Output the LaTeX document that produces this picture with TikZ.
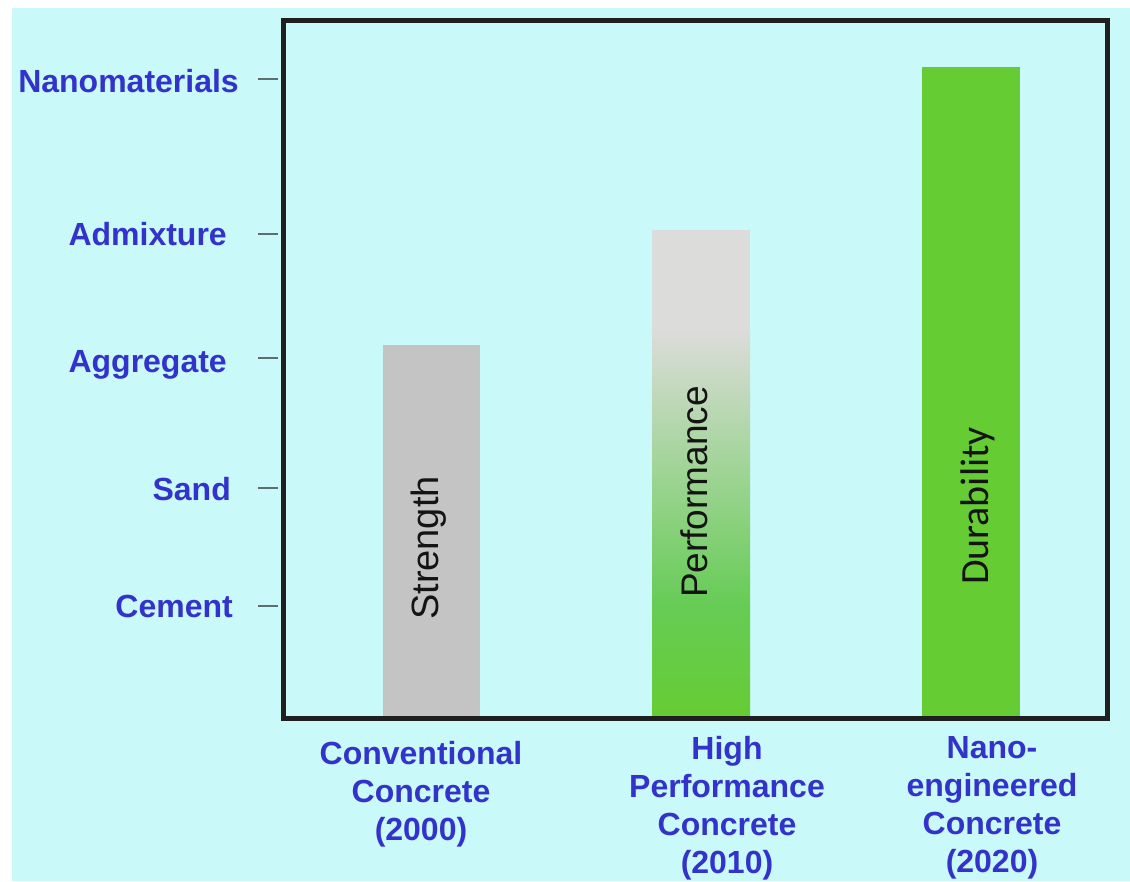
\documentclass[tikz,border=0pt]{standalone}
\usepackage{fontspec}
\setmainfont{Liberation Sans}
\newfontfamily\durfont{Carlito}

\definecolor{panelCyan}{HTML}{C9F9F9}
\definecolor{labelBlue}{HTML}{3333CC}
\definecolor{barGreen}{HTML}{66CC33}
\definecolor{midGreen}{HTML}{66CC55}
\definecolor{barGray}{HTML}{C4C4C4}
\definecolor{fadeGray}{HTML}{DCDCDA}
\definecolor{tickGray}{HTML}{5F6F6F}

\tikzset{
	axislabel/.style={font=\fontsize{32}{38}\selectfont\bfseries, text=labelBlue, inner sep=0pt},
	barlabel/.style={rotate=90, anchor=base, inner sep=0pt, text=black!92},
}

\begin{document}
\begin{tikzpicture}[x=1pt, y=-1pt]

		\useasboundingbox (0,0) rectangle (1130,881);
		\fill[panelCyan] (12,8) rectangle (1130,881);

		% Ingredient levels with their ticks
		\foreach \name/\txt/\xe/\yb/\yt in {
				nano/Nanomaterials/239/92/79,
				admix/Admixture/227/245/234,
				aggr/Aggregate/227/372/358,
				sand/Sand/231/500/488,
				cem/Cement/233/617/606
			} {
				\node[axislabel, anchor=base east] (\name) at (\xe,\yb) {\txt};
				\draw[tickGray, line width=2pt] (258,\yt) -- (278,\yt);
			}

		% Bars
		\fill[barGray] (383,345) rectangle (480,718);
		\fill[fadeGray] (652,230) rectangle (750,330);
		\shade[top color=fadeGray, bottom color=midGreen] (652,330) rectangle (750,605);
		\shade[top color=midGreen, bottom color=barGreen] (652,605) rectangle (750,718);
		\fill[barGreen] (922,67) rectangle (1020,718);

		\node[barlabel, font=\fontsize{38}{40}\selectfont] (strength) at (438,548) {Strength};
		\node[barlabel, font=\fontsize{37}{40}\selectfont] (perf) at (707,492) {Performance};
		\node[barlabel, font=\durfont\fontsize{40}{42}\selectfont] (dur) at (988,506) {Durability};

		% Frame
		\draw[line width=5pt, black!88] (283,20) rectangle (1107,718);

		% Concrete generations
		\foreach \name/\txt/\xc/\yt in {
				conv/{Conventional\\Concrete\\(2000)}/421/741,
				hpc/{High\\Performance\\Concrete\\(2010)}/727/736,
				nec/{Nano-\\engineered\\Concrete\\(2020)}/992/736
			} {
				\node[axislabel, align=center, anchor=north] (\name) at (\xc,\yt) {\txt};
			}

	\end{tikzpicture}
\end{document}
